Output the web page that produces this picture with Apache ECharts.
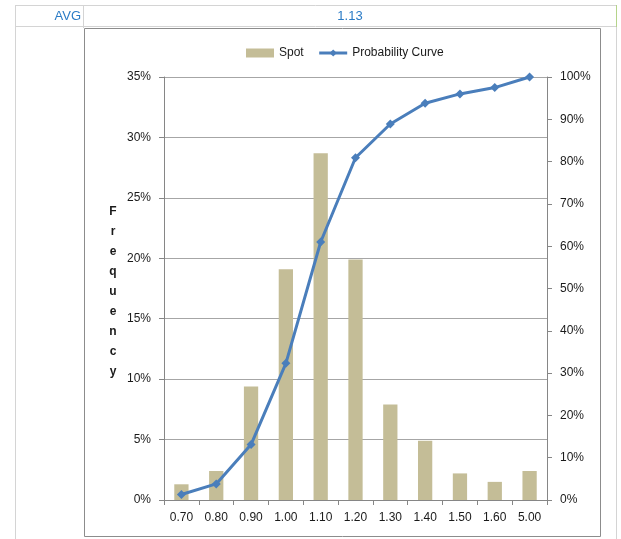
<!DOCTYPE html>
<html>
<head>
<meta charset="utf-8">
<script src="https://cdn.jsdelivr.net/npm/echarts@6/dist/echarts.min.js"></script>
<style>
  html, body { margin: 0; padding: 0; background: #ffffff; }
  #chart { width: 621px; height: 539px; }
</style>
</head>
<body>
<div id="chart"></div>
<script>
// Spot price buckets and their frequencies (percent)
var categories = ['0.70', '0.80', '0.90', '1.00', '1.10', '1.20', '1.30', '1.40', '1.50', '1.60', '5.00'];
var spotFrequency = [1.3, 2.4, 9.4, 19.1, 28.7, 19.9, 7.9, 4.9, 2.2, 1.5, 2.4];
// Cumulative probability (percent)
var probabilityCurve = [1.3, 3.8, 13.1, 32.3, 61.0, 80.9, 88.9, 93.8, 96.0, 97.5, 100];
var avgLabel = 'AVG';
var avgValue = '1.13';
var axisTitle = 'Frequency';

var FONT = '"Liberation Sans", Arial, sans-serif';
var chart = echarts.init(document.getElementById('chart'), null, { renderer: 'canvas' });

chart.setOption({
  animation: false,
  backgroundColor: '#ffffff',
  textStyle: { fontFamily: FONT },
  grid: { left: 164, right: 74, top: 77, bottom: 39, containLabel: false },
  legend: {
    left: 241, top: 42,
    itemWidth: 28, itemHeight: 9, itemGap: 14,
    textStyle: { fontFamily: FONT, fontSize: 12, color: '#1a1a1a' },
    data: [
      { name: 'Spot', icon: 'rect' },
      { name: 'Probability Curve', lineStyle: { width: 3, color: '#4a7ebb' } }
    ]
  },
  xAxis: {
    type: 'category',
    data: categories,
    axisLine: { lineStyle: { color: '#868686', width: 1 } },
    axisTick: { show: true, alignWithLabel: false, length: 5, lineStyle: { color: '#868686' } },
    axisLabel: { color: '#1a1a1a', fontSize: 12, margin: 12, fontFamily: FONT },
    splitLine: { show: false }
  },
  yAxis: [
    {
      type: 'value', min: 0, max: 35, interval: 5,
      axisLine: { show: true, lineStyle: { color: '#868686' } },
      axisTick: { show: true, length: 5, lineStyle: { color: '#868686' } },
      axisLabel: { formatter: '{value}%', color: '#1a1a1a', fontSize: 12, margin: 13, fontFamily: FONT },
      splitLine: { show: true, lineStyle: { color: '#a6a6a6', width: 1 } }
    },
    {
      type: 'value', min: 0, max: 100, interval: 10, position: 'right',
      axisLine: { show: true, lineStyle: { color: '#868686' } },
      axisTick: { show: true, length: 5, lineStyle: { color: '#868686' } },
      axisLabel: { formatter: '{value}%', color: '#1a1a1a', fontSize: 12, margin: 13, fontFamily: FONT },
      splitLine: { show: false }
    }
  ],
  series: [
    {
      name: 'Spot',
      type: 'bar',
      yAxisIndex: 0,
      data: spotFrequency,
      barWidth: '41%',
      itemStyle: { color: '#c4bd97' }
    },
    {
      name: 'Probability Curve',
      type: 'line',
      yAxisIndex: 1,
      data: probabilityCurve,
      symbol: 'diamond',
      symbolSize: 9,
      lineStyle: { color: '#4a7ebb', width: 3 },
      itemStyle: { color: '#4a7ebb' }
    }
  ],
  graphic: [
    // spreadsheet header row
    { type: 'line', shape: { x1: 15, y1: 5.5, x2: 616, y2: 5.5 }, style: { stroke: '#d4d4d4', lineWidth: 1 }, silent: true },
    { type: 'line', shape: { x1: 15, y1: 26.5, x2: 616, y2: 26.5 }, style: { stroke: '#d4d4d4', lineWidth: 1 }, silent: true },
    { type: 'line', shape: { x1: 15.5, y1: 5, x2: 15.5, y2: 539 }, style: { stroke: '#d4d4d4', lineWidth: 1 }, silent: true },
    { type: 'line', shape: { x1: 83.5, y1: 5, x2: 83.5, y2: 28 }, style: { stroke: '#d4d4d4', lineWidth: 1 }, silent: true },
    { type: 'line', shape: { x1: 616.5, y1: 5, x2: 616.5, y2: 27 }, style: { stroke: '#b5d48a', lineWidth: 1 }, silent: true },
    { type: 'line', shape: { x1: 616.5, y1: 27, x2: 616.5, y2: 539 }, style: { stroke: '#d4d4d4', lineWidth: 1 }, silent: true },
    {
      type: 'text', x: 81, y: 16,
      style: { text: avgLabel, fill: '#2a7bc6', font: '13px ' + FONT, textAlign: 'right', textVerticalAlign: 'middle' },
      silent: true
    },
    {
      type: 'text', x: 350, y: 16,
      style: { text: avgValue, fill: '#2a7bc6', font: '13px ' + FONT, textAlign: 'center', textVerticalAlign: 'middle' },
      silent: true
    },
    // chart frame
    { type: 'rect', shape: { x: 84.5, y: 28.5, width: 516, height: 508 }, style: { fill: 'none', stroke: '#8c8c8c', lineWidth: 1 }, silent: true, z: -1 },
    // stacked vertical axis title
    {
      type: 'text', x: 113, y: 292,
      style: {
        text: axisTitle.split('').join('\n'),
        fill: '#1a1a1a', font: 'bold 12px ' + FONT, lineHeight: 20,
        textAlign: 'center', textVerticalAlign: 'middle'
      },
      silent: true
    }
  ]
});
</script>
</body>
</html>
